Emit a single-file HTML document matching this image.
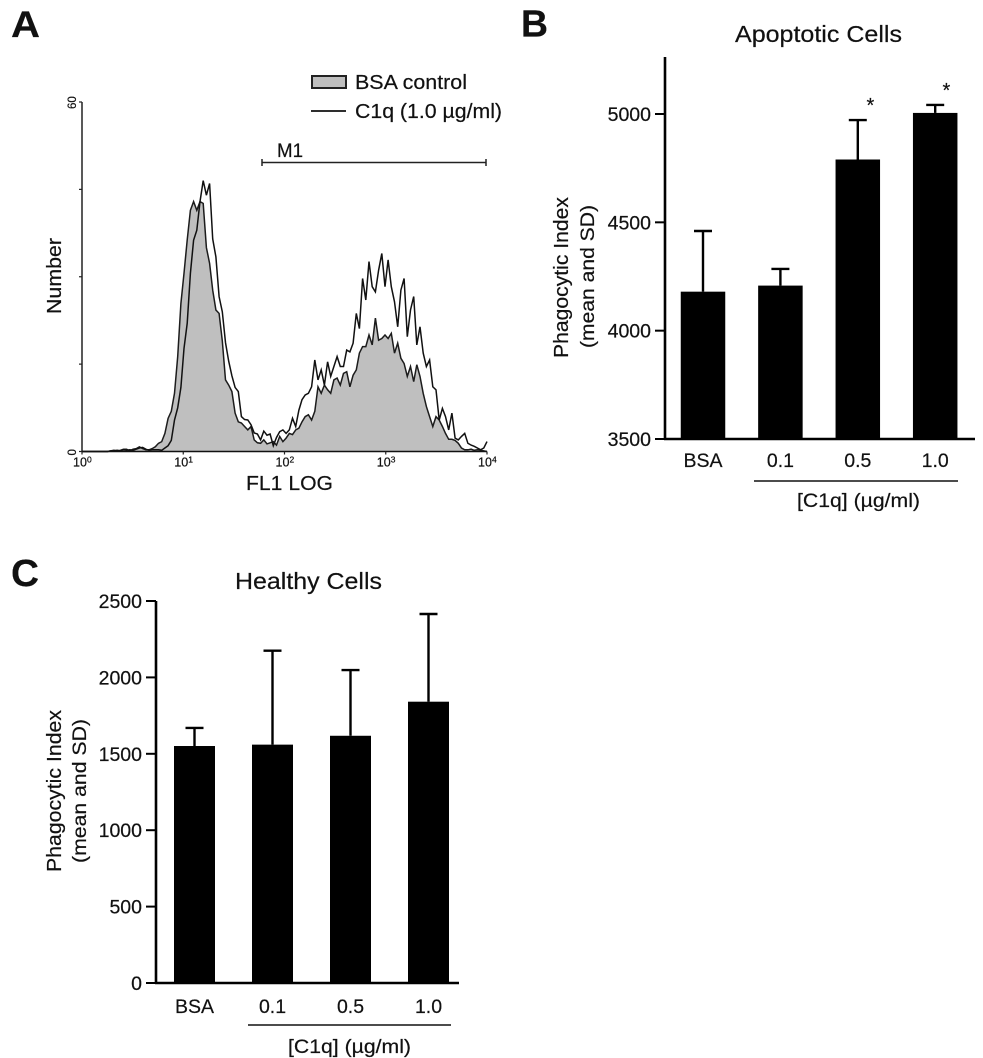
<!DOCTYPE html>
<html>
<head>
<meta charset="utf-8">
<title>Phagocytosis figure</title>
<style>
html,body{margin:0;padding:0;background:#fff;}
svg{display:block;}
text{font-family:"Liberation Sans",sans-serif;fill:#111;stroke:#111;stroke-width:0.2px;}
</style>
</head>
<body>
<svg id="fig" xmlns="http://www.w3.org/2000/svg" width="983" height="1058" viewBox="0 0 983 1058">
  <rect x="0" y="0" width="983" height="1058" fill="#fff"/>

  <text x="11" y="37" font-size="37" font-weight="bold" textLength="29" lengthAdjust="spacingAndGlyphs">A</text>
  <text x="521" y="36.5" font-size="38" font-weight="bold" textLength="27" lengthAdjust="spacingAndGlyphs">B</text>
  <text x="11" y="586" font-size="38" font-weight="bold" textLength="28" lengthAdjust="spacingAndGlyphs">C</text>

  <g id="panelA"></g>
  <g>
    <rect x="312" y="76" width="34" height="12" fill="#bfbfbf" stroke="#222" stroke-width="2"/>
    <text x="355" y="89" font-size="20" textLength="112" lengthAdjust="spacingAndGlyphs">BSA control</text>
    <line x1="311" y1="111" x2="346" y2="111" stroke="#111" stroke-width="1.8"/>
    <text x="355" y="118" font-size="20" textLength="147" lengthAdjust="spacingAndGlyphs">C1q (1.0 µg/ml)</text>
  </g>
  <g>
    <text x="277" y="157" font-size="19" textLength="26" lengthAdjust="spacingAndGlyphs">M1</text>
    <path d="M262 162.5H486M262 159V166M486 159V166" stroke="#222" stroke-width="1.5" fill="none"/>
  </g>
  <text transform="translate(61,314) rotate(-90)" font-size="20" textLength="76" lengthAdjust="spacingAndGlyphs">Number</text>
  <text x="246" y="490" font-size="20" textLength="87" lengthAdjust="spacingAndGlyphs">FL1 LOG</text>

  <text x="735" y="42" font-size="23" textLength="167" lengthAdjust="spacingAndGlyphs">Apoptotic Cells</text>
  <g id="panelB"></g>
  <text transform="translate(568,358) rotate(-90)" font-size="20" textLength="161" lengthAdjust="spacingAndGlyphs">Phagocytic Index</text>
  <text transform="translate(594,348) rotate(-90)" font-size="19" textLength="143" lengthAdjust="spacingAndGlyphs">(mean and SD)</text>
  <line x1="754" y1="481" x2="958" y2="481" stroke="#111" stroke-width="1.6"/>
  <text x="797" y="507" font-size="19" textLength="123" lengthAdjust="spacingAndGlyphs">[C1q] (µg/ml)</text>
  <text x="866.5" y="112" font-size="20">*</text>
  <text x="942.5" y="97" font-size="20">*</text>

  <text x="235" y="589" font-size="23" textLength="147" lengthAdjust="spacingAndGlyphs">Healthy Cells</text>
  <g id="panelC"></g>
  <text transform="translate(61,872) rotate(-90)" font-size="20" textLength="162" lengthAdjust="spacingAndGlyphs">Phagocytic Index</text>
  <text transform="translate(86,863) rotate(-90)" font-size="19" textLength="144" lengthAdjust="spacingAndGlyphs">(mean and SD)</text>
  <line x1="248" y1="1025" x2="451" y2="1025" stroke="#111" stroke-width="1.6"/>
  <text x="288" y="1053" font-size="19" textLength="123" lengthAdjust="spacingAndGlyphs">[C1q] (µg/ml)</text>
</svg>

<script>
// Histogram data: event counts per FL1 bin (bins evenly spaced over four log decades)
var bsaCounts = [0,0,0,0,0,0,0,0,0,
  .1,.2,.1,.2,.4,.4,.1,.4,.5,.8,.5,.3,.3,.5,.8,1.4,1.7,3.1,5.7,6.9,10,16.3,25.4,30.6,36.3,41.4,42.9,41.4,42.9,42.6,35,
  32.3,27.7,24.3,23.7,19,12.3,11.4,10.3,6.6,5.1,4.9,4.3,3.7,4.3,2,1.5,1.4,2,1.3,1.5,1.7,1.1,2.6,1.7,2.3,3.1,2.9,3.7,4,5.1,
  6,6.3,5.4,6.9,11.1,10,11.4,10.6,10,12.3,12.6,11.4,13.4,13.7,11.1,13.1,14,16.9,18,18,20,18.3,22.9,19.1,19.4,20,19.4,20.3,16.9,18.6,
  16,15.1,12.9,14.6,12,14.9,12.9,10,7.7,6,4.3,6,5.4,4.3,3.1,2.1,2.1,1.9,1.4,.6,.3,.3,.4,.2,.3,.2,.1,0];
var c1qCounts = [0,0,0,0,0,0,0,0,0,
  .1,.1,.2,.1,.3,.2,.3,.2,.4,.6,.7,.4,.2,.3,.3,.3,.2,.6,1,1.9,5.4,7.5,11,17.7,22,30.6,36.3,38,42.9,46.5,44,
  46,36.5,33.4,26.6,24,18.7,15.5,13,11,10.3,6,5.5,5.4,4.6,3.2,3,2,3.5,2.8,3,1,2.4,3.4,3.7,3.1,3.7,5.7,4.3,7.1,8.9,
  9.7,10,11.1,15.7,12.3,14,11.4,15.4,12.9,14.6,16.3,14.6,14.6,17.4,17.1,18.6,23.7,21.1,29.7,26,32.6,28.3,27.4,31.1,34,28.3,32.9,28.3,25.7,21.4,
  27.7,29.7,19.7,24.3,26.6,18.3,21.4,16.9,14.6,15.7,11.1,10.6,5.4,7.4,6,3.7,6.6,2.3,2,2.6,3.1,1.4,1.1,.9,.6,.3,.6,1.7];
var histDecades = [0,1,2,3,4];
var histYTicks = [0,15,30,45,60];

// Bar chart B data
var apoptoticCategories = ["BSA","0.1","0.5","1.0"];
var apoptoticMeans = [4180,4208,4790,5005];
var apoptoticUpper = [4460,4285,4972,5042];
var apoptoticTicks = [3500,4000,4500,5000];

// Bar chart C data
var healthyCategories = ["BSA","0.1","0.5","1.0"];
var healthyMeans = [1551,1560,1618,1841];
var healthyUpper = [1669,2175,2048,2415];
var healthyTicks = [0,500,1000,1500,2000,2500];

var NS = "http://www.w3.org/2000/svg";
function make(parent, tag, props, content) {
  var el = document.createElementNS(NS, tag);
  for (var k in props) el.setAttribute(k, props[k]);
  if (content !== undefined) el.textContent = content;
  parent.appendChild(el);
  return el;
}

/* ---------- Panel A: histogram ---------- */
(function () {
  var g = document.getElementById("panelA");
  var x0 = 82, x1 = 487, yBase = 451.5, yTop = 102;
  function xBin(i, n) { return x0 + i / (n - 1) * (x1 - x0); }
  function xDecade(d) { return x0 + d / 4 * (x1 - x0); }
  function yCount(c) { return yBase - c / 60 * (yBase - yTop); }
  function linePoints(series) {
    return series.map(function (v, i) {
      return xBin(i, series.length).toFixed(1) + "," + yCount(v).toFixed(1);
    }).join(" ");
  }
  var fill = make(g, "polygon", {
    points: x0 + "," + yBase + " " + linePoints(bsaCounts) + " " + x1 + "," + yBase,
    fill: "#bfbfbf", stroke: "none"
  });
  
  
  var bsaLine = make(g, "polyline", {
    points: linePoints(bsaCounts), fill: "none", stroke: "#1c1c1c", "stroke-width": 1.5
  });
  
  
  var c1qLine = make(g, "polyline", {
    points: linePoints(c1qCounts), fill: "none", stroke: "#111", "stroke-width": 1.5
  });
  
  

  var yAxis = make(g, "line", { x1: x0, y1: yTop, x2: x0, y2: yBase, stroke: "#222", "stroke-width": 1.5 });
  
  
  var xAxis = make(g, "line", { x1: x0, y1: yBase, x2: x1, y2: yBase, stroke: "#111", "stroke-width": 1.6 });
  
  

  histYTicks.forEach(function (t) {
    var y = yCount(t);
    var tick = make(g, "line", { x1: x0 - 3, y1: y, x2: x0, y2: y, stroke: "#222", "stroke-width": 1.2 });
    
    
    if (t === 0 || t === 60) {
      var lab = make(g, "text", {
        transform: "translate(" + (x0 - 6) + "," + (t === 0 ? y + 4 : y + 7) + ") rotate(-90)",
        "font-size": 11.5
      }, String(t));
      
      
    }
  });

  histDecades.forEach(function (d) {
    var x = xDecade(d);
    var tick = make(g, "line", { x1: x, y1: yBase, x2: x, y2: yBase + 3, stroke: "#222", "stroke-width": 1.2 });
    
    
    var lab = make(g, "text", {
      x: x - 9, y: yBase + 15, "font-size": 12.5
    }, "10");
    
    
    var sup = make(g, "text", {
      x: x + 5, y: yBase + 11, "font-size": 8.5
    }, String(d));
    
    
  });
})();

/* ---------- Panels B and C: bar charts ---------- */
function drawBarChart(g, cfg) {
  function yVal(v) { return cfg.yBase - (v - cfg.vMin) / (cfg.vMax - cfg.vMin) * (cfg.yBase - cfg.yMax); }
  function xBand(i) { return cfg.firstCenter + i * cfg.step; }

  cfg.means.forEach(function (m, i) {
    var cx = xBand(i), top = yVal(m), upper = yVal(cfg.upper[i]);
    var stem = make(g, "line", { x1: cx, y1: upper, x2: cx, y2: top, stroke: "#000", "stroke-width": 2.4 });
    
    
    var cap = make(g, "line", { x1: cx - 9, y1: upper, x2: cx + 9, y2: upper, stroke: "#000", "stroke-width": 2.4 });
    
    
    var bar = make(g, "rect", {
      x: cx - cfg.barWidth / 2, y: top, width: cfg.barWidth, height: cfg.yBase - top, fill: "#000"
    });
    
    
    var lab = make(g, "text", {
      x: cx, y: cfg.labelY, "font-size": 19.5, "text-anchor": "middle"
    }, cfg.categories[i]);
    
    
  });

  var yAxis = make(g, "line", { x1: cfg.axisX, y1: cfg.axisTop, x2: cfg.axisX, y2: cfg.yBase + 1, stroke: "#000", "stroke-width": 2.6 });
  
  
  var xAxis = make(g, "line", { x1: cfg.axisX - 1, y1: cfg.yBase, x2: cfg.axisEnd, y2: cfg.yBase, stroke: "#000", "stroke-width": 2.6 });
  
  

  cfg.ticks.forEach(function (t) {
    var y = yVal(t);
    var tick = make(g, "line", { x1: cfg.axisX - 10, y1: y, x2: cfg.axisX, y2: y, stroke: "#000", "stroke-width": 2 });
    
    
    var lab = make(g, "text", {
      x: cfg.axisX - 14, y: y + 7, "font-size": 19.5, "text-anchor": "end"
    }, String(t));
    
    
  });
}

drawBarChart(document.getElementById("panelB"), {
  categories: apoptoticCategories, means: apoptoticMeans, upper: apoptoticUpper, ticks: apoptoticTicks,
  vMin: 3500, vMax: 5000, yBase: 439, yMax: 114,
  firstCenter: 703, step: 77.4, barWidth: 44.5,
  axisX: 665, axisTop: 57, axisEnd: 975, labelY: 467
});
drawBarChart(document.getElementById("panelC"), {
  categories: healthyCategories, means: healthyMeans, upper: healthyUpper, ticks: healthyTicks,
  vMin: 0, vMax: 2500, yBase: 983, yMax: 601,
  firstCenter: 194.5, step: 78, barWidth: 41,
  axisX: 156, axisTop: 601, axisEnd: 459, labelY: 1013
});
</script>
</body>
</html>
